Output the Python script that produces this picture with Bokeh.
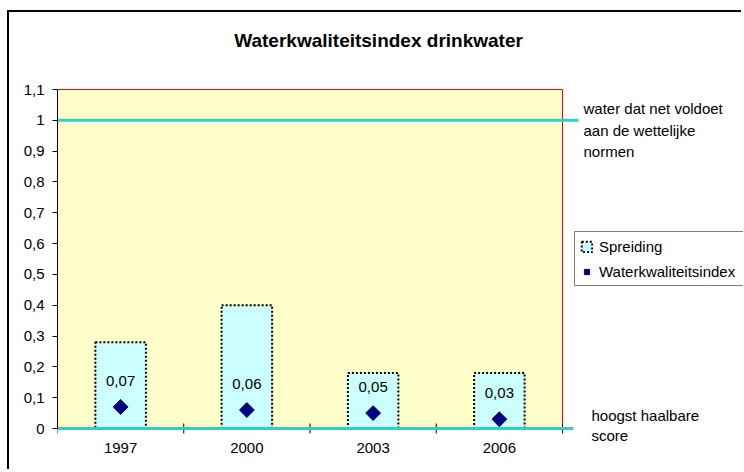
import math
from bokeh.plotting import figure
from bokeh.models import (Range1d, FixedTicker, CustomJSTickFormatter, Legend, LegendItem,
                          Label, ColumnDataSource)
from bokeh.core.properties import value
from bokeh.embed import file_html
from bokeh.resources import INLINE

years = ["1997", "2000", "2003", "2006"]
spreiding = [0.28, 0.40, 0.18, 0.18]
index_values = [0.07, 0.06, 0.05, 0.03]
index_labels = ["0,07", "0,06", "0,05", "0,03"]
y_ticks = [0, 0.1, 0.2, 0.3, 0.4, 0.5, 0.6, 0.7, 0.8, 0.9, 1.0, 1.1]
y_max = 1.1
norm_level = 1.0
best_level = 0.0

FONT = "Liberation Sans"
n = len(years)
xs = [i + 0.5 for i in range(n)]
bounds_x = list(range(n + 1))
src = ColumnDataSource(dict(x=xs, top=spreiding, val=index_values, lab=index_labels))

# layout (pixels)
W, H = 734, 459
LEFT, BOTTOM = 48, 29
PX_X = 126.25          # pixels per category
PX_Y = 339 / 1.1       # pixels per unit
frame_w = W - LEFT
frame_h = H - BOTTOM
y0 = -14 / PX_Y
p = figure(width=W, height=H, output_backend="svg", toolbar_location=None,
           x_range=Range1d(0, frame_w / PX_X), y_range=Range1d(y0, y0 + frame_h / PX_Y),
           min_border_left=LEFT, min_border_right=0, min_border_top=0,
           min_border_bottom=BOTTOM)
p.title.visible = False
p.styles = {"border-left": "2px solid #000", "border-top": "2px solid #000",
            "margin-top": "10px", "margin-left": "7px"}
p.background_fill_color = "white"
p.border_fill_color = "white"
p.outline_line_color = None
p.xgrid.visible = False
p.ygrid.visible = False

# plot area
p.quad(left=0, right=n, bottom=0, top=y_max, fill_color="#FFFFCC", line_color=None)
p.line(x=[0, n, n], y=[y_max, y_max, 0], line_color="#FF0000", line_width=1)

# bars (spreiding)
bars = p.vbar(x="x", top="top", bottom=0, width=0.4, source=src,
              fill_color="#CCFFFF", line_color="black", line_width=2, line_dash="2 2")

# category boundary ticks
p.scatter(x=bounds_x, y=[best_level] * len(bounds_x), marker="dash", angle=math.pi / 2,
          size=10, line_color="black", line_width=1)

# reference lines
ext = n + 16 / PX_X
p.segment(x0=[0, 0], y0=[norm_level, best_level], x1=[ext, ext - 5 / PX_X],
          y1=[norm_level, best_level], line_color="#33CCCC", line_width=3)

# diamonds
pts = p.scatter(x="x", y="val", source=src, marker="square", angle=math.pi / 4, size=10.5,
                fill_color="#000080", line_color="#000080")
p.text(x="x", y="val", text="lab", source=src, y_offset=-26, text_align="center",
       text_baseline="middle", text_font=value(FONT), text_font_size="15px", text_color="black")

# axes
yax = p.yaxis[0]
yax.bounds = (0, y_max)
yax.ticker = FixedTicker(ticks=y_ticks)
yax.formatter = CustomJSTickFormatter(code="var s=(Math.round(tick*10)/10).toString(); return s.replace('.', ',');")
yax.major_tick_out = 5
yax.major_tick_in = 0
yax.minor_tick_line_color = None
yax.major_label_standoff = 8
yax.axis_line_color = "black"
yax.major_label_text_font = FONT
yax.major_label_text_font_size = "15px"
yax.major_label_text_color = "black"

xax = p.xaxis[0]
xax.bounds = (0, n)
xax.ticker = FixedTicker(ticks=xs)
xax.major_label_overrides = {x: y for x, y in zip(xs, years)}
xax.major_tick_out = 0
xax.major_tick_in = 0
xax.minor_tick_line_color = None
xax.axis_line_color = None
xax.major_label_standoff = 0
xax.major_label_text_font = FONT
xax.major_label_text_font_size = "15px"
xax.major_label_text_color = "black"

# title
p.add_layout(Label(x=2.543, y=y_max, y_offset=49, text="Waterkwaliteitsindex drinkwater",
                   text_align="center", text_baseline="middle", text_font=FONT,
                   text_font_size="19px", text_font_style="bold", text_color="black"))

# side annotations
side = [("water dat net voldoet", norm_level, 21, 12),
        ("aan de wettelijke", norm_level, 21, -10),
        ("normen", norm_level, 21, -31),
        ("hoogst haalbare", best_level, 29, 13),
        ("score", best_level, 29, -7)]
for txt, yy, xo, yo in side:
    p.add_layout(Label(x=n, y=yy, x_offset=xo, y_offset=yo, text=txt,
                       text_align="left", text_baseline="middle", text_font=FONT,
                       text_font_size="15px", text_color="black"))

legend = Legend(items=[LegendItem(label="Spreiding", renderers=[bars]),
                       LegendItem(label="Waterkwaliteitsindex", renderers=[pts])],
                location=(517, 156), glyph_width=13, glyph_height=13, label_height=18,
                spacing=7, padding=5, margin=0, label_standoff=6, label_width=150,
                label_text_font=FONT, label_text_font_size="15px", label_text_color="black",
                border_line_color="black", border_line_width=1, background_fill_color="white",
                background_fill_alpha=1)
p.add_layout(legend, "center")

open("out.html", "w").write(file_html(p, INLINE))
